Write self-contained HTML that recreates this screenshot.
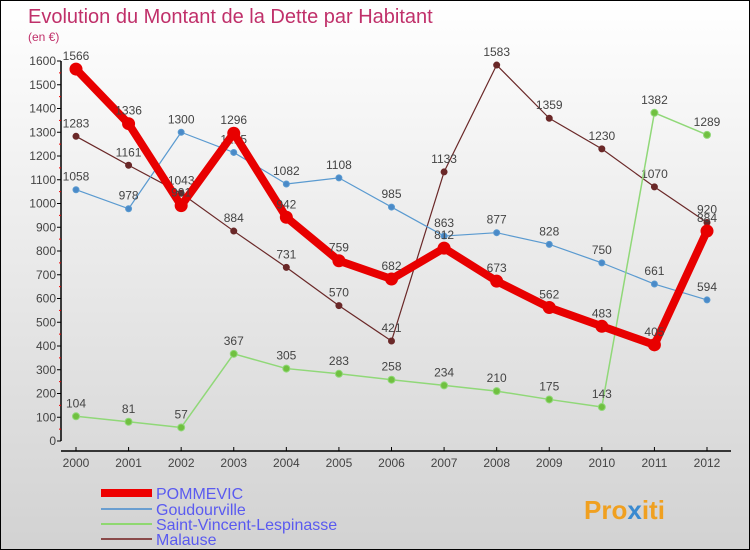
<!DOCTYPE html>
<html><head><meta charset="utf-8"><style>
body{margin:0}
#c{width:750px;height:550px;position:relative;box-sizing:border-box;border:1px solid #000;background:linear-gradient(#ffffff,#d2d2d2);font-family:"Liberation Sans",sans-serif;overflow:hidden}
</style></head><body>
<div id="c">
<svg id="s" width="750" height="550" style="position:absolute;left:0;top:0">
<text x="27" y="22" font-size="20" fill="#c0306a">Evolution du Montant de la Dette par Habitant</text>
<text x="27" y="40" font-size="12" fill="#c0306a">(en €)</text>
<g id="axes"></g><g id="series"></g>
<g>
<rect x="100" y="488" width="51" height="8" fill="#e00"/>
<text x="155" y="498" font-size="16" fill="#5a5af0">POMMEVIC</text>
<line x1="100" y1="508" x2="151" y2="508" stroke="#6a9ed0" stroke-width="2"/>
<text x="155" y="514" font-size="16" fill="#5a5af0">Goudourville</text>
<line x1="100" y1="523" x2="151" y2="523" stroke="#8fd870" stroke-width="2"/>
<text x="155" y="529" font-size="16" fill="#5a5af0">Saint-Vincent-Lespinasse</text>
<line x1="100" y1="538" x2="151" y2="538" stroke="#8a4a4a" stroke-width="2"/>
<text x="155" y="544" font-size="16" fill="#5a5af0">Malause</text>
</g>
<text x="583" y="518" font-size="26" font-weight="bold" fill="#f0a020">Pro<tspan fill="#3a8ad0">x</tspan>iti</text>
</svg>
</div>
<script>
const years=[2000,2001,2002,2003,2004,2005,2006,2007,2008,2009,2010,2011,2012];
const yTicks=[0,100,200,300,400,500,600,700,800,900,1000,1100,1200,1300,1400,1500,1600];
const pommevic=[1566,1336,991,1296,942,759,682,812,673,562,483,405,884];
const goudourville=[1058,978,1300,1215,1082,1108,985,863,877,828,750,661,594];
const saintVincent=[104,81,57,367,305,283,258,234,210,175,143,1382,1289];
const malause=[1283,1161,1043,884,731,570,421,1133,1583,1359,1230,1070,920];
const NS="http://www.w3.org/2000/svg";
function X(i){return 75+i*(706-75)/(years.length-1);}
function Y(v){return 440-v*380/1600;}
function mk(t,a,p){const e=document.createElementNS(NS,t);for(const k in a)e.setAttribute(k,a[k]);p.appendChild(e);return e;}
const ax=document.getElementById('axes');
let l=mk('line',{x1:60,y1:Y(0),x2:60,y2:Y(1600),stroke:'#000','stroke-width':1.5},ax);


yTicks.forEach(v=>{
 mk('line',{x1:56,y1:Y(v),x2:60,y2:Y(v),stroke:'#000'},ax);
 mk('line',{x1:58,y1:Y(v+50),x2:60,y2:Y(v+50),stroke:v<1600?'#e00':'none'},ax);
 const t=mk('text',{x:55,y:Y(v)+4,'font-size':12,fill:'#444','text-anchor':'end'},ax);t.textContent=v;
 
 
});
l=mk('line',{x1:60,y1:450,x2:730,y2:450,stroke:'#000','stroke-width':1.5},ax);


years.forEach((y,i)=>{
 mk('line',{x1:X(i),y1:446,x2:X(i),y2:450,stroke:'#000'},ax);
 const t=mk('text',{x:X(i),y:466,'font-size':12,fill:'#444','text-anchor':'middle'},ax);t.textContent=y;
 
 
});
const sg=document.getElementById('series');
function draw(vals,name,color,w,r,fill){
 const g=mk('g',{},sg);
 
 
 const p=mk('polyline',{points:vals.map((v,i)=>X(i)+','+Y(v)).join(' '),fill:'none',stroke:color,'stroke-width':w,'stroke-linejoin':'round'},g);
 
 
 vals.forEach((v,i)=>{
  const c=mk('circle',{cx:X(i),cy:Y(v),r:r,fill:fill,stroke:color,'stroke-width':1},g);
  
  
  const t=mk('text',{x:X(i),y:Y(v)-9,'font-size':12,fill:'#444','text-anchor':'middle'},g);t.textContent=v;
  
  
 });
}
draw(malause,'malause','#6a2828',1.2,3,'#6a2828');
draw(goudourville,'goudourville','#5a9ad0',1.2,3,'#4a8ac8');
draw(saintVincent,'saint-vincent','#90d878',1.5,3.5,'#70c040');
draw(pommevic,'pommevic','#e80000',8,6,'#e80000');
</script>
</body></html>
